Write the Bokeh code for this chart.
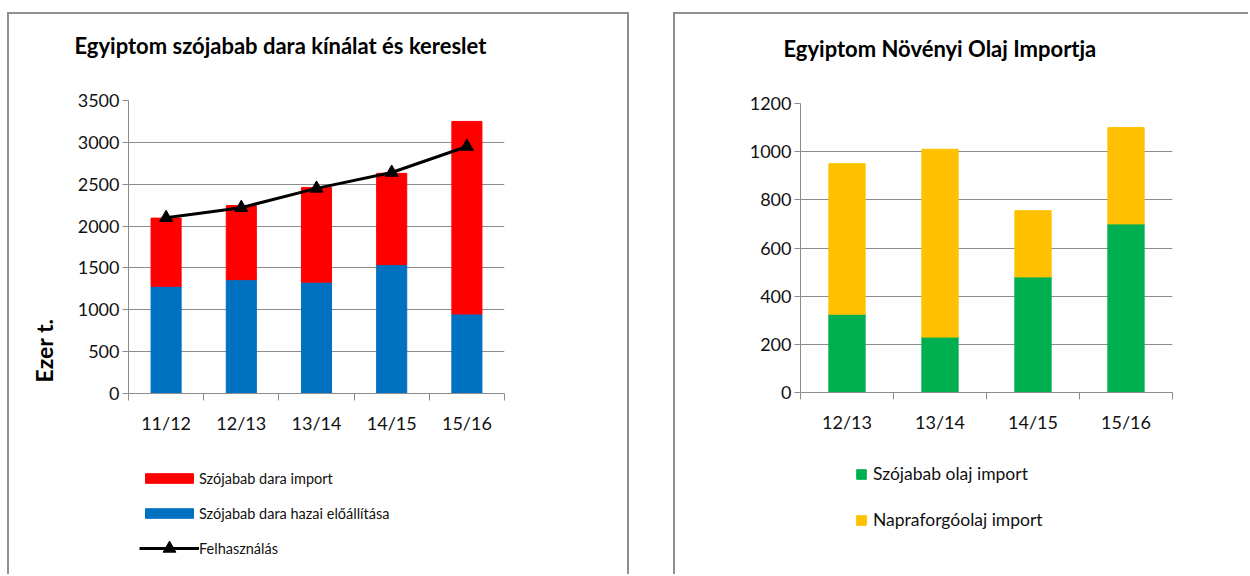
import numpy as np
from bokeh.plotting import figure
from bokeh.models import Range1d, FixedTicker, Legend, LegendItem, Title, ColumnDataSource
from bokeh.layouts import row, column
from bokeh.embed import file_html
from bokeh.resources import INLINE

# ---------------- data ----------------
seasons1 = ["11/12", "12/13", "13/14", "14/15", "15/16"]
sbm_domestic = [1280, 1360, 1330, 1540, 950]
sbm_import = [815, 885, 1130, 1090, 2300]
sbm_use = [2100, 2220, 2450, 2640, 2950]

seasons2 = ["12/13", "13/14", "14/15", "15/16"]
soy_oil_import = [325, 230, 480, 700]
sun_oil_import = [625, 780, 275, 400]

FONT = "Lato"
GRID = "#8c8c8c"
BORDER = "#8f8f8f"
RED, BLUE, GREEN, YELLOW = "#FF0000", "#0070C0", "#00B050", "#FFC000"
BSTYLE = f"2px solid {BORDER}"


def style_axes(p, n, labels, ystep):
    p.outline_line_color = None
    p.xgrid.grid_line_color = None
    p.ygrid.grid_line_color = GRID
    p.ygrid.grid_line_width = 1
    p.yaxis.ticker = FixedTicker(ticks=list(np.arange(0, p.y_range.end + 1, ystep)))
    p.yaxis.axis_line_color = GRID
    p.yaxis.major_tick_line_color = GRID
    p.yaxis.major_tick_out = 6
    p.yaxis.major_tick_in = 0
    p.yaxis.minor_tick_line_color = None
    p.yaxis.major_label_standoff = 3
    p.yaxis.major_label_text_font = FONT
    p.yaxis.major_label_text_font_size = "18px"
    p.yaxis.major_label_text_color = "#111111"
    centers = [i + 0.5 for i in range(n)]
    p.xaxis.ticker = FixedTicker(ticks=centers, minor_ticks=list(range(n + 1)))
    p.xaxis.major_label_overrides = {c: lab for c, lab in zip(centers, labels)}
    p.xaxis.major_tick_line_color = None
    p.xaxis.major_tick_out = 0
    p.xaxis.major_tick_in = 0
    p.xaxis.minor_tick_line_color = GRID
    p.xaxis.minor_tick_out = 7
    p.xaxis.minor_tick_in = 0
    p.xaxis.axis_line_color = GRID
    p.xaxis.major_label_standoff = 11
    p.xaxis.major_label_text_font = FONT
    p.xaxis.major_label_text_font_size = "18px"
    p.xaxis.major_label_text_color = "#111111"


def add_title(p, text, offset):
    # a spacer entry next to the frame, then the real title above it
    p.add_layout(Title(text=" ", standoff=34, text_font_size="1px"), "above")
    p.add_layout(Title(text=text, align="left", offset=offset, text_font=FONT,
                       text_font_style="bold", text_font_size="22px", text_color="#000000",
                       standoff=10, vertical_align="bottom"), "above")


def legend_fig(width, height, border):
    # a strip below the chart that only carries the legend
    q = figure(width=width, height=height, x_range=Range1d(-3, -2), y_range=Range1d(0, 1),
               x_axis_type=None, y_axis_type=None, output_backend="svg", toolbar_location=None,
               min_border=0, min_border_left=0, min_border_right=0, min_border_top=0,
               min_border_bottom=0)
    q.outline_line_color = None
    q.styles = border
    return q


# ---------------- left chart ----------------
x1 = [i + 0.5 for i in range(len(seasons1))]
src1 = ColumnDataSource(dict(x=x1, dom=sbm_domestic, imp=sbm_import, use=sbm_use))

p1 = figure(width=622, height=443, x_range=Range1d(0, len(seasons1)), y_range=Range1d(0, 3500),
            output_backend="svg", toolbar_location=None,
            min_border_left=119, min_border_right=127, min_border_top=86, min_border_bottom=64)
p1.title = None
add_title(p1, "Egyiptom szójabab dara kínálat és kereslet", -54)
p1.vbar_stack(["dom", "imp"], x="x", width=0.4, color=[BLUE, RED], source=src1)
p1.line(x="x", y="use", line_width=3, line_color="black", source=src1)
p1.scatter(x="x", y="use", marker="triangle", size=13, color="black", source=src1)
style_axes(p1, len(seasons1), seasons1, 500)
p1.add_layout(Title(text="Ezer t.", align="left", offset=11, standoff=34,
                    text_font=FONT, text_font_style="bold", text_font_size="23px",
                    text_color="#000000"), "left")
p1.styles = {"border-top": BSTYLE, "border-left": BSTYLE, "border-right": BSTYLE}

q1 = legend_fig(622, 119, {"border-left": BSTYLE, "border-right": BSTYLE})
k_dom, k_imp = q1.vbar_stack(["dom", "imp"], x="x", width=0.4, color=[BLUE, RED], source=src1)
k_line = q1.line(x="x", y="use", line_width=3, line_color="black", source=src1)
k_tri = q1.scatter(x="x", y="use", marker="triangle", size=13, color="black", source=src1)
for r in (k_dom, k_imp, k_line, k_tri):
    r.visible = False
common1 = dict(orientation="vertical", glyph_width=60, label_height=20, padding=0, margin=0,
               border_line_color=None, background_fill_alpha=0, label_standoff=0,
               label_text_font=FONT, label_text_font_size="14.5px", label_text_color="#111111")
leg1 = Legend(items=[LegendItem(label="Szójabab dara import", renderers=[k_imp]),
                     LegendItem(label="Szójabab dara hazai előállítása", renderers=[k_dom])],
              location=(11, 51), glyph_height=12, spacing=15, **common1)
leg1b = Legend(items=[LegendItem(label="Felhasználás", renderers=[k_line, k_tri])],
               location=(11, 10), glyph_height=32, spacing=0, **common1)
q1.add_layout(leg1)
q1.add_layout(leg1b)

# ---------------- right chart ----------------
x2 = [i + 0.5 for i in range(len(seasons2))]
src2 = ColumnDataSource(dict(x=x2, soy=soy_oil_import, sun=sun_oil_import))

p2 = figure(width=575, height=443, x_range=Range1d(0, len(seasons2)), y_range=Range1d(0, 1200),
            output_backend="svg", toolbar_location=None,
            min_border_left=125, min_border_right=78, min_border_top=89, min_border_bottom=65)
p2.title = None
add_title(p2, "Egyiptom Növényi Olaj Importja", -17)
p2.vbar_stack(["soy", "sun"], x="x", width=0.39, color=[GREEN, YELLOW], source=src2)
style_axes(p2, len(seasons2), seasons2, 200)
p2.styles = {"border-top": BSTYLE, "border-left": BSTYLE}

q2 = legend_fig(575, 119, {"border-left": BSTYLE})
k_soy, k_sun = q2.vbar_stack(["soy", "sun"], x="x", width=0.39, color=[GREEN, YELLOW], source=src2)
for r in (k_soy, k_sun):
    r.visible = False
leg2 = Legend(items=[LegendItem(label="Szójabab olaj import", renderers=[k_soy]),
                     LegendItem(label="Napraforgóolaj import", renderers=[k_sun])],
              location=(55, 44), orientation="vertical", glyph_width=12, glyph_height=12,
              label_height=20, spacing=25, padding=0, margin=0, border_line_color=None,
              background_fill_alpha=0, label_standoff=6, label_text_font=FONT,
              label_text_font_size="17.5px", label_text_color="#111111")
q2.add_layout(leg2)

layout = row(column(p1, q1, spacing=0), column(p2, q2, spacing=0),
             spacing=44, margin=(12, 0, 0, 7))

with open("out.html", "w") as f:
    f.write(file_html(layout, INLINE))
